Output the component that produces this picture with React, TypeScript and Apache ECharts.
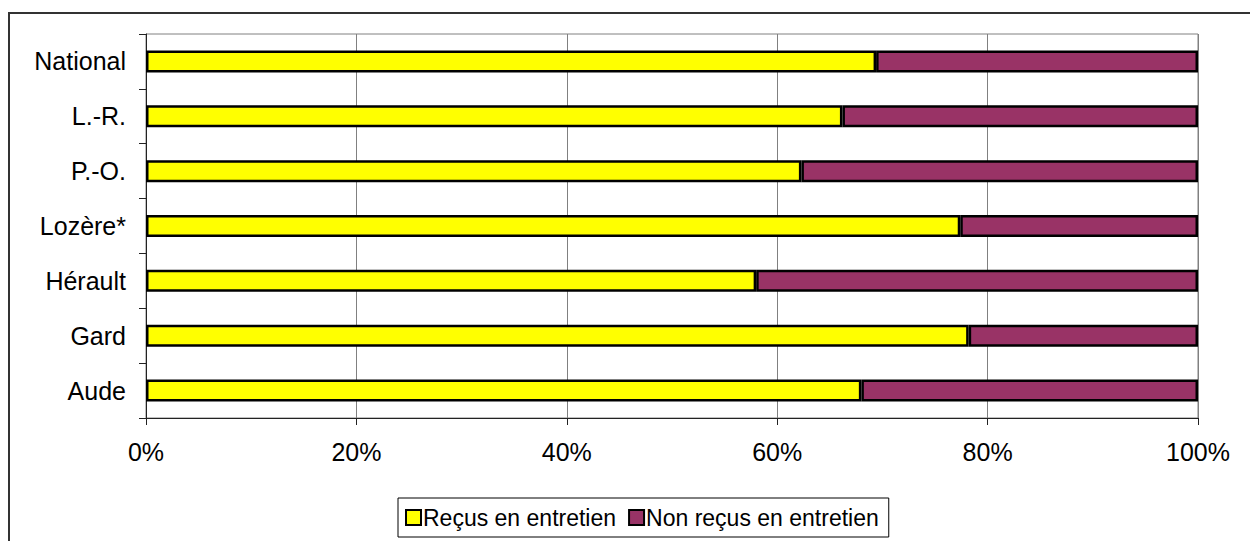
import React, { useEffect, useRef } from "react";
import * as echarts from "echarts";

const categories = ["Aude", "Gard", "Hérault", "Lozère*", "P.-O.", "L.-R.", "National"];
const recus = [68.0, 78.2, 58.0, 77.4, 62.3, 66.2, 69.4];
const nonRecus = [32.0, 21.8, 42.0, 22.6, 37.7, 33.8, 30.6];
const xTicks = [0, 20, 40, 60, 80, 100];
const seriesNames = ["Reçus en entretien", "Non reçus en entretien"];

const FONT = "'Liberation Sans', Arial, sans-serif";

export default function App() {
  const ref = useRef<HTMLDivElement>(null);
  useEffect(() => {
    if (!ref.current) return;
    const chart = echarts.init(ref.current, undefined, { renderer: "svg" });
    chart.setOption({
      animation: false,
      textStyle: { fontFamily: FONT, color: "#000" },
      graphic: [
        {
          type: "rect",
          shape: { x: 1, y: 5, width: 1400, height: 700 },
          style: { fill: "none", stroke: "#333", lineWidth: 2 },
          silent: true,
        },
      ],
      grid: {
        left: 138,
        right: 60,
        top: 26,
        bottom: 123,
        show: true,
        borderColor: "#808080",
        borderWidth: 1,
        containLabel: false,
      },
      legend: {
        data: seriesNames,
        left: 390,
        top: 490,
        orient: "horizontal",
        itemWidth: 15,
        itemHeight: 15,
        itemGap: 12,
        padding: [8, 10, 8, 7],
        borderColor: "#000",
        borderWidth: 1,
        icon: "rect",
        textStyle: { fontSize: 23, fontFamily: FONT, color: "#000", padding: [0, 0, 0, -3] },
      },
      xAxis: {
        type: "value",
        min: 0,
        max: 100,
        interval: 20,
        axisLine: { show: true, lineStyle: { color: "#222", width: 1 } },
        axisTick: { show: true, length: 7, lineStyle: { color: "#222" } },
        splitLine: { show: true, lineStyle: { color: "#808080", width: 1 } },
        axisLabel: {
          fontSize: 25,
          fontFamily: FONT,
          color: "#000",
          margin: 21,
          formatter: (v: number) => (xTicks.includes(v) ? `${v}%` : ""),
        },
      },
      yAxis: {
        type: "category",
        data: categories,
        axisLine: { show: true, lineStyle: { color: "#222", width: 1 } },
        axisTick: { show: true, length: 7, lineStyle: { color: "#222" } },
        axisLabel: { fontSize: 25, fontFamily: FONT, color: "#000", margin: 20 },
      },
      series: [
        {
          name: seriesNames[0],
          type: "bar",
          stack: "total",
          data: recus,
          barWidth: 22,
          itemStyle: { color: "#FFFF00", borderColor: "#000", borderWidth: 2.5 },
        },
        {
          name: seriesNames[1],
          type: "bar",
          stack: "total",
          data: nonRecus,
          barWidth: 22,
          itemStyle: { color: "#993366", borderColor: "#000", borderWidth: 2.5 },
        },
      ],
    });
    return () => chart.dispose();
  }, []);
  return <div ref={ref} style={{ width: 1250, height: 533 }} />;
}
